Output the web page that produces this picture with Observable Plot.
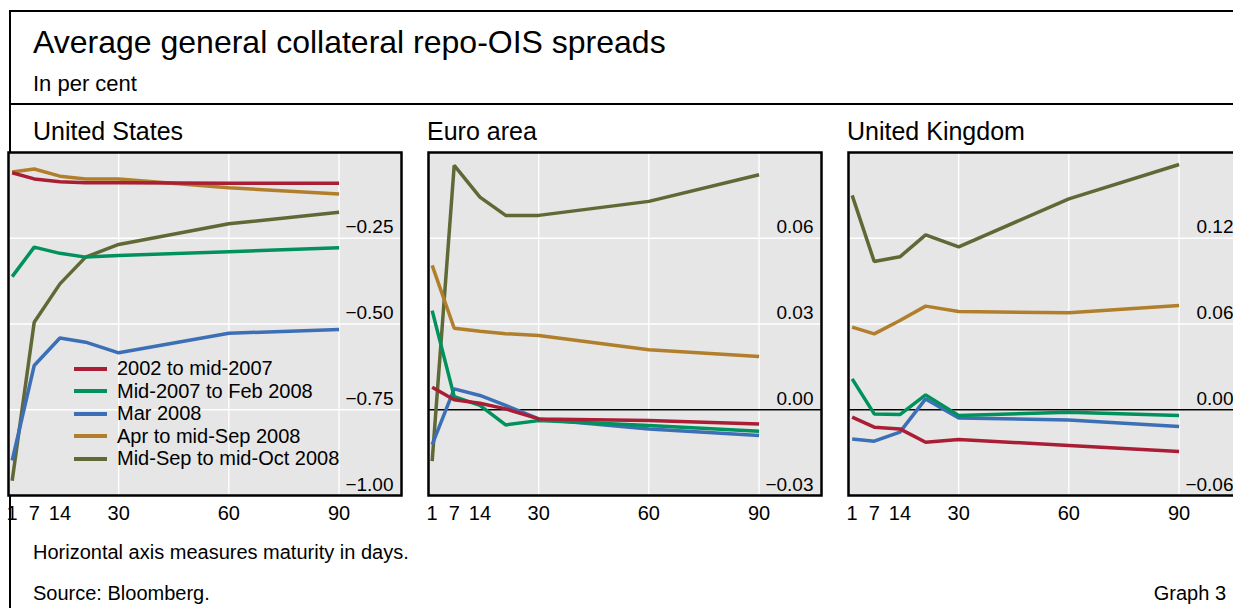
<!DOCTYPE html>
<html><head><meta charset="utf-8">
<script src="https://cdn.jsdelivr.net/npm/d3@7"></script>
<script src="https://cdn.jsdelivr.net/npm/@observablehq/plot@0.6"></script>
<style>
html,body{margin:0;padding:0;width:1233px;height:608px;overflow:hidden;background:#fff;font-family:"Liberation Sans",Arial,sans-serif;color:#000}
#page{position:relative;width:1233px;height:608px;overflow:hidden}
.t{position:absolute;white-space:nowrap;line-height:1}
.rule{position:absolute;background:#000}
.panel{position:absolute;width:397px;height:380px}
.panel svg{max-width:none !important}
.legend{position:absolute;left:0;top:357.5px}
.legend .row{display:flex;align-items:center;height:22.5px;font-size:20px}
.legend .sw{width:33px;height:4px;margin-left:74px;margin-right:10px}
</style></head><body><div id="page"></div>
<script>
const maturities = [1, 7, 14, 21, 30, 60, 90];
const seriesNames = ["2002 to mid-2007", "Mid-2007 to Feb 2008", "Mar 2008", "Apr to mid-Sep 2008", "Mid-Sep to mid-Oct 2008"];
const seriesColors = ["#a91e34", "#00915c", "#3d6fb6", "#b17f2c", "#5f6936"];
const drawOrder = [4, 3, 2, 1, 0];

// values per series (same order as seriesNames), per maturity
const usSpreads = [
  [-0.059, -0.077, -0.085, -0.088, -0.088, -0.090, -0.090],
  [-0.362, -0.276, -0.294, -0.305, -0.300, -0.289, -0.278],
  [-0.898, -0.621, -0.541, -0.553, -0.584, -0.527, -0.516],
  [-0.057, -0.048, -0.069, -0.077, -0.077, -0.103, -0.121],
  [-0.957, -0.495, -0.383, -0.305, -0.268, -0.208, -0.174]
];
const euroSpreads = [
  [0.0079, 0.0035, 0.0023, 0.0003, -0.0032, -0.0038, -0.0050],
  [0.0347, 0.0046, 0.0015, -0.0053, -0.0038, -0.0055, -0.0075],
  [-0.0122, 0.0073, 0.0050, 0.0015, -0.0032, -0.0067, -0.0090],
  [0.0505, 0.0285, 0.0275, 0.0266, 0.0260, 0.0210, 0.0186],
  [-0.0180, 0.0855, 0.0744, 0.0680, 0.0680, 0.0729, 0.0822]
];
const ukSpreads = [
  [-0.0052, -0.0122, -0.0134, -0.0227, -0.0208, -0.0250, -0.0292],
  [0.0216, -0.0029, -0.0034, 0.0104, -0.0040, -0.0017, -0.0040],
  [-0.0204, -0.0220, -0.0157, 0.0076, -0.0057, -0.0071, -0.0117],
  [0.0578, 0.0531, 0.0624, 0.0725, 0.0687, 0.0678, 0.0729],
  [0.1500, 0.1037, 0.1070, 0.1224, 0.1140, 0.1476, 0.1716]
];

const xTickValues = [1, 7, 14, 30, 60, 90];
const xGridValues = [30, 60, 90];
const usYTicks = [-1, -0.75, -0.5, -0.25, 0];
const euroYTicks = [-0.03, 0, 0.03, 0.06, 0.09];
const ukYTicks = [-0.06, 0, 0.06, 0.12, 0.18];

const panelTitles = ["United States", "Euro area", "United Kingdom"];

const FONT = '"Liberation Sans", Arial, sans-serif';
const fmt = d3.format(".2f");

function makePanel(values, yTicks, zeroLine) {
  const data = [];
  drawOrder.forEach(s => maturities.forEach((m, i) => data.push({series: seriesNames[s], m, v: values[s][i]})));
  const domain = [yTicks[0], yTicks[yTicks.length - 1]];
  const inner = yTicks.slice(1, -1);
  const labelTicks = yTicks.slice(0, -1);
  return Plot.plot({
    width: 397, height: 380,
    marginLeft: 2, marginRight: 2, marginTop: 2, marginBottom: 35,
    x: {domain: [0, 107]},
    y: {domain, axis: null},
    color: {domain: seriesNames, range: seriesColors},
    style: {fontFamily: FONT, background: "transparent", color: "black", overflow: "visible", maxWidth: "none"},
    marks: [
      Plot.frame({fill: "#e6e6e6", stroke: null}),
      Plot.gridX(xGridValues, {stroke: "white", strokeOpacity: 1, strokeWidth: 1.3}),
      Plot.gridY(inner, {stroke: "white", strokeOpacity: 1, strokeWidth: 1.3}),
      zeroLine ? Plot.ruleY([0], {stroke: "black", strokeWidth: 1.3}) : null,
      Plot.text(labelTicks, {y: d => d, text: d => fmt(d), frameAnchor: "right", textAnchor: "end", lineAnchor: "bottom", dx: -8, dy: -5, fontSize: 19, fill: "black"}),
      Plot.line(data, {x: "m", y: "v", z: "series", stroke: "series", strokeWidth: 3.5, strokeLinejoin: "miter", strokeLinecap: "butt"}),
      Plot.axisX(xTickValues, {tickSize: 0, tickPadding: 10, fontSize: 20, label: null, fill: "black"}),
      Plot.frame({stroke: "black", strokeWidth: 2.5})
    ]
  });
}

const page = document.getElementById("page");
function addText(txt, left, top, size, extra) {
  const d = document.createElement("div");
  d.className = "t";
  d.textContent = txt;
  d.style.left = left + "px";
  d.style.top = top + "px";
  d.style.fontSize = size + "px";
  if (extra) Object.assign(d.style, extra);
  page.appendChild(d);
  return d;
}
function addRule(left, top, w, h) {
  const d = document.createElement("div");
  d.className = "rule";
  Object.assign(d.style, {left: left + "px", top: top + "px", width: w + "px", height: h + "px"});
  page.appendChild(d);
}

addRule(9, 10, 1230, 2);
addRule(9, 10, 2, 600);
addRule(9, 103, 1230, 2);

addText("Average general collateral repo-OIS spreads", 33, 26, 32);
addText("In per cent", 33, 72.5, 22);

const panelLefts = [6, 426, 846];
const panelData = [[usSpreads, usYTicks, false], [euroSpreads, euroYTicks, true], [ukSpreads, ukYTicks, true]];
panelData.forEach(([vals, ticks, zero], i) => {
  addText(panelTitles[i], panelLefts[i] + 27 - (i === 0 ? 0 : 26) , 119, 25);
  const wrap = document.createElement("div");
  wrap.className = "panel";
  wrap.style.left = panelLefts[i] + "px";
  wrap.style.top = "150px";
  wrap.appendChild(makePanel(vals, ticks, zero));
  page.appendChild(wrap);
});

// legend
const leg = document.createElement("div");
leg.className = "legend";
seriesNames.forEach((n, i) => {
  const r = document.createElement("div");
  r.className = "row";
  const sw = document.createElement("span");
  sw.className = "sw";
  sw.style.background = seriesColors[i];
  const tx = document.createElement("span");
  tx.textContent = n;
  r.appendChild(sw); r.appendChild(tx);
  leg.appendChild(r);
});
page.appendChild(leg);

addText("Horizontal axis measures maturity in days.", 33, 542, 20);
addText("Source: Bloomberg.", 33, 583, 20);
addText("Graph 3", 0, 583, 20, {left: "auto", right: "7px"});
</script>
</body></html>
